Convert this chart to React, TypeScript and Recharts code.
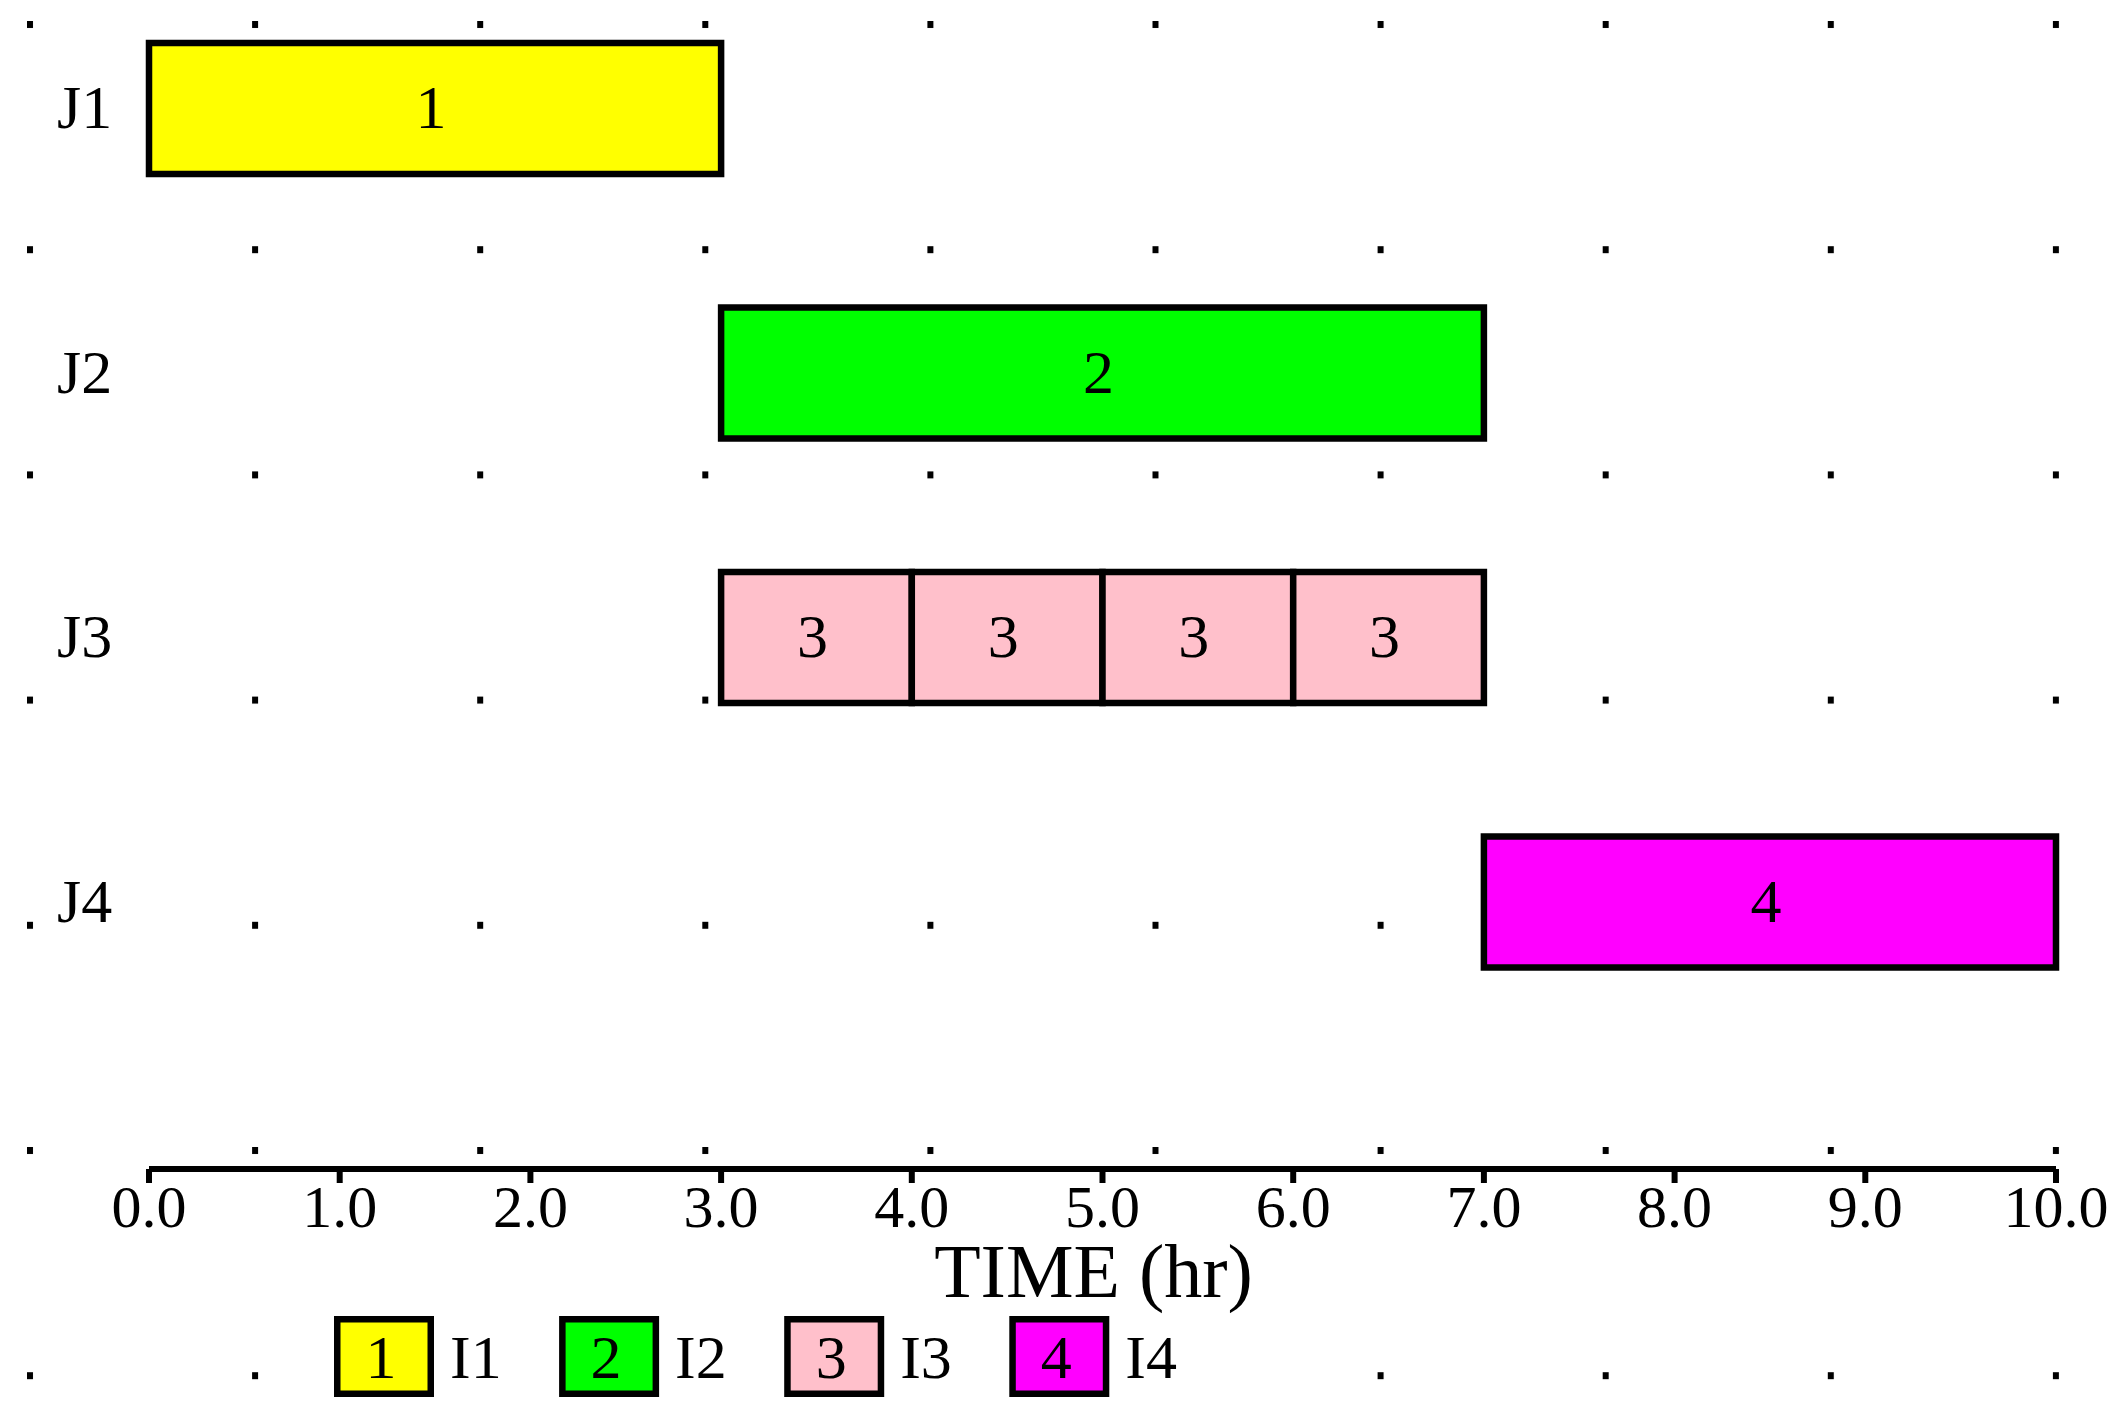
import React from 'react';
import { BarChart, Bar, XAxis, YAxis, Cell, LabelList, Legend } from 'recharts';

// ---- data ----
const jobs = ['J1', 'J2', 'J3', 'J4'];
const jobItem = [0, 1, 2, 3]; // index into items for each job
const jobStart = [0, 3, 3, 7]; // hr
const jobSegments = [[3], [4], [1, 1, 1, 1], [3]]; // durations (hr)
const itemNumbers = ['1', '2', '3', '4'];
const itemNames = ['I1', 'I2', 'I3', 'I4'];
const itemColors = ['#ffff00', '#00ff00', '#ffc0cb', '#ff00ff'];
const timeTicks = [0, 1, 2, 3, 4, 5, 6, 7, 8, 9, 10];
const segKeys = ['d0', 'd1', 'd2', 'd3'];
const labKeys = ['l0', 'l1', 'l2', 'l3'];

const data = jobs.map((job, i) => {
  const row: any = { job, start: jobStart[i] };
  jobSegments[i].forEach((d, k) => {
    row[segKeys[k]] = d;
    row[labKeys[k]] = itemNumbers[jobItem[i]];
  });
  return row;
});

const FONT = '"Liberation Serif", "Times New Roman", serif';
const W = 2128;
const H = 1413;
const SHIFT = 25;

const JobTick = (props: any) => {
  const { x, y, payload } = props;
  return (
    <text x={x} y={y} dy="0.32em" textAnchor="start" fontFamily={FONT} fontSize={62} fill="#000">
      {payload.value}
    </text>
  );
};

const BarLabel = (props: any) => {
  const { x, y, width, height, value } = props;
  if (value === undefined || value === null || !width) return null;
  return (
    <text
      x={x + width / 2 - 4}
      y={y + height / 2}
      dy="0.32em"
      textAnchor="middle"
      fontFamily={FONT}
      fontSize={62}
      fill="#000"
    >
      {value}
    </text>
  );
};

const TimeLabel = (props: any) => {
  const vb = props.viewBox || {};
  return (
    <text
      x={vb.x + vb.width / 2 - 9}
      y={vb.y + 128}
      textAnchor="middle"
      fontFamily={FONT}
      fontSize={76}
      fill="#000"
    >
      TIME (hr)
    </text>
  );
};

const LegendContent = () => {
  const step = 225.1;
  return (
    <svg width={W} height={110} style={{ display: 'block' }}>
      {itemNames.map((name, i) => {
        const x0 = 334 + i * step;
        return (
          <g key={name}>
            <rect x={x0} y={16} width={172} height={81} fill="#fff" />
            <rect
              x={x0 + 3.25}
              y={19.25}
              width={93.5}
              height={74.5}
              fill={itemColors[i]}
              stroke="#000"
              strokeWidth={6.5}
            />
            <text x={x0 + 47} y={78} textAnchor="middle" fontFamily={FONT} fontSize={62} fill="#000">
              {itemNumbers[i]}
            </text>
            <text x={x0 + 116} y={78} textAnchor="start" fontFamily={FONT} fontSize={62} fill="#000">
              {name}
            </text>
          </g>
        );
      })}
    </svg>
  );
};

export default function App() {
  return (
    <div
      style={{
        position: 'absolute',
        left: 0,
        top: 0,
        width: W,
        height: H,
        overflow: 'hidden',
        background: '#fff',
        fontFamily: FONT,
      }}
    >
      <svg width={W} height={H} style={{ position: 'absolute', left: 0, top: 0 }}>
        <defs>
          <pattern id="dotgrid" patternUnits="userSpaceOnUse" x={27} y={21} width={225.1} height={225.2}>
            <rect x={0} y={0} width={6} height={7} fill="#000" />
          </pattern>
        </defs>
        <rect x={0} y={0} width={W} height={H} fill="url(#dotgrid)" />
      </svg>
      <div style={{ position: 'absolute', left: 0, top: -SHIFT }}>
        <BarChart
          width={W}
          height={H + SHIFT}
          data={data}
          layout="vertical"
          margin={{ top: 1, right: 72, bottom: 114, left: 0 }}
          barSize={131}
        >
          <XAxis
            type="number"
            domain={[0, 10]}
            ticks={timeTicks}
            interval={0}
            tickFormatter={(v: number) => v.toFixed(1)}
            height={130}
            axisLine={{ stroke: '#000', strokeWidth: 6 }}
            tickLine={{ stroke: '#000', strokeWidth: 6 }}
            tickSize={14}
            tickMargin={1}
            tick={{ fill: '#000', fontSize: 60, fontFamily: FONT }}
            label={(p: any) => <TimeLabel {...p} />}
          />
          <YAxis
            type="category"
            dataKey="job"
            width={149}
            axisLine={false}
            tickLine={false}
            tickSize={0}
            tickMargin={92}
            padding={{ top: 0, bottom: 135 }}
            tick={<JobTick />}
          />
          <Legend
            layout="horizontal"
            verticalAlign="middle"
            align="center"
            wrapperStyle={{ position: 'absolute', left: 0, top: 1300 + SHIFT, width: W, height: 110 }}
            content={() => <LegendContent />}
          />
          <Bar dataKey="start" stackId="a" fill="transparent" stroke="none" isAnimationActive={false} legendType="none" />
          {segKeys.map((key, k) => (
            <Bar
              key={key}
              dataKey={key}
              stackId="a"
              stroke="#000"
              strokeWidth={6.5}
              isAnimationActive={false}
            >
              {data.map((row, i) => (
                <Cell key={i} fill={itemColors[jobItem[i]]} />
              ))}
              <LabelList dataKey={labKeys[k]} content={<BarLabel />} />
            </Bar>
          ))}
        </BarChart>
      </div>
    </div>
  );
}
